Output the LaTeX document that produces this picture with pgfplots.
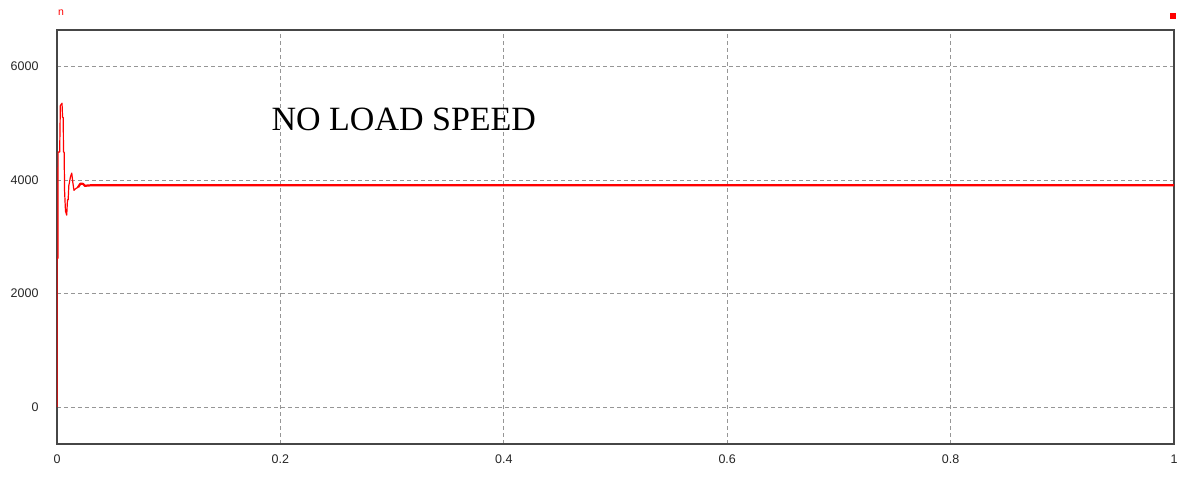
\documentclass[border=0pt]{standalone}
\usepackage{fontspec}
\setmainfont{Liberation Sans}
\newfontfamily\titlefont{Liberation Serif}
\usepackage{pgfplots}
\pgfplotsset{compat=1.18}
\definecolor{gridgray}{RGB}{150,150,150}
\definecolor{framegray}{RGB}{70,70,70}
\definecolor{psimred}{RGB}{255,0,0}
\begin{document}
\begin{tikzpicture}
\begin{axis}[
  at={(0pt,0pt)}, anchor=south west,
  scale only axis,
  width=1117pt, height=414pt,
  xmin=0, xmax=1, ymin=-650, ymax=6640,
  xtick={0,0.2,0.4,0.6,0.8,1},
  ytick={0,2000,4000,6000},
  xticklabels={0,0.2,0.4,0.6,0.8,1},
  major tick length=0pt,
  grid=major,
  major grid style={gridgray, line width=0.8pt, dash pattern=on 4pt off 3pt},
  axis line style={framegray, line width=1.4pt},
  tick label style={font=\fontsize{12.5}{14}\selectfont, text=black!85},
  /pgf/number format/assume math mode=true,
  scaled y ticks=false,
  yticklabel style={anchor=east, xshift=-15pt},
  xticklabel style={anchor=north, yshift=-7pt},
  yticklabel={\pgfmathprintnumber[fixed,precision=0,1000 sep={}]{\tick}},
  clip=true,
]
\addplot[psimred, line width=1.2pt, line join=round] coordinates {
(0,0) (0,800) (0.0001,2620) (0.0009,2620) (0.0010,4490) (0.0024,4490)
(0.0030,5310) (0.0045,5350) (0.0050,5100) (0.0056,5100) (0.0058,4490)
(0.0064,4490) (0.0068,3800) (0.0076,3450) (0.0087,3380) (0.0094,3650)
(0.0100,3650) (0.0106,3900) (0.0120,4050) (0.0132,4120) (0.0142,3950)
(0.0152,3817) (0.0170,3850) (0.0188,3870)
};
\addplot[psimred, line width=2.2pt, line join=round] coordinates {
(0.0188,3870) (0.0210,3935) (0.0233,3930) (0.0250,3895) (0.0269,3900)
(0.0300,3905) (1.0,3905)
};
\node[font=\titlefont\fontsize{34}{37}\selectfont, text=black] at (rel axis cs:0.3105,0.785) {NO LOAD SPEED};
\node[font=\fontsize{11}{13}\selectfont, text=black!85] at (rel axis cs:0.5,0) [yshift=-38pt] {Time (\textit{s})};
\end{axis}
\node[font=\fontsize{10.5}{12}\selectfont, text=psimred, inner sep=0pt] at (4pt,431pt) {n};
\fill[psimred] (1113pt,425pt) rectangle (1119pt,431pt);
\pgfresetboundingbox
\path[use as bounding box] (-57pt,-48pt) rectangle (1131pt,444pt);
\end{tikzpicture}
\end{document}
